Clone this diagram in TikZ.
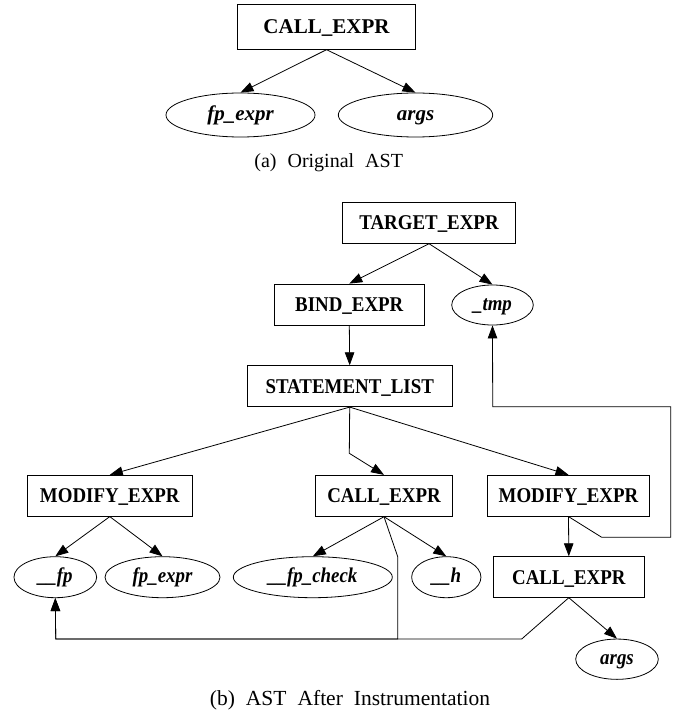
\documentclass[tikz,border=0pt]{standalone}
\usepackage{fontspec}
\usepackage{graphicx}
\setmainfont{Liberation Serif}
\usetikzlibrary{arrows.meta,shapes.geometric}
\begin{document}
\begin{tikzpicture}[x=1pt,y=-1pt,
  box/.style={draw, rectangle, inner sep=0pt, line width=0.8pt, text height=14.2pt, text depth=0pt, font=\fontsize{21}{24}\selectfont\bfseries},
  ell/.style={draw, ellipse, inner sep=0pt, line width=0.8pt, text height=11.5pt, text depth=0pt, font=\fontsize{21}{24}\selectfont\bfseries\itshape},
  edge/.style={-{Triangle[length=13pt,width=9.5pt]}, line width=0.8pt},
  captxt/.style={inner sep=0pt, font=\fontsize{20}{24}\selectfont}]
\useasboundingbox (0,0) rectangle (681,719);
% (a)
\node[box, minimum width=178.4pt, minimum height=45pt] (ca) at (326.5,26.8) {CALL\_EXPR};
\node[ell, minimum width=149pt, minimum height=44pt] (fa) at (240.5,115) {fp\_expr};
\node[ell, minimum width=154.4pt, minimum height=44pt] (aa) at (415.5,115) {args};
\node[captxt] (capa) at (328.7,163) {(a)\hspace{11pt}Original\hspace{11pt}AST};
\draw[edge] (ca.south) -- (fa.north);
\draw[edge] (ca.south) -- (aa.north);
% (b)
\newcommand{\sq}[1]{\scalebox{0.9}[1]{#1}}
\node[box, minimum width=172.6pt, minimum height=41pt] (te) at (429,222.8) {\sq{TARGET\_EXPR}};
\node[box, minimum width=150.7pt, minimum height=41pt] (be) at (349.3,304.5) {\sq{BIND\_EXPR}};
\node[ell, minimum width=81.6pt, minimum height=40pt] (tmp) at (492.5,305) {\sq{\_tmp}};
\node[box, minimum width=205.5pt, minimum height=41pt] (sl) at (349.7,386.2) {\sq{STATEMENT\_LIST}};
\node[box, minimum width=165pt, minimum height=41pt] (me1) at (109.8,495.7) {\sq{MODIFY\_EXPR}};
\node[box, minimum width=136.6pt, minimum height=41pt] (ce1) at (384,495.8) {\sq{CALL\_EXPR}};
\node[box, minimum width=161.6pt, minimum height=41pt] (me2) at (568.5,495.7) {\sq{MODIFY\_EXPR}};
\node[ell, minimum width=82.7pt, minimum height=41pt] (fp) at (55.3,577.2) {\sq{\_\_fp}};
\node[ell, minimum width=115pt, minimum height=41pt] (fe) at (162.5,577.2) {\sq{fp\_expr}};
\node[ell, minimum width=159pt, minimum height=41pt] (fc) at (312.8,577.2) {\sq{\_\_fp\_check}};
\node[ell, minimum width=69.3pt, minimum height=41pt] (hh) at (446.3,577.2) {\sq{\_\_h}};
\node[box, minimum width=151pt, minimum height=40.6pt] (ce2) at (568.8,577) {\sq{CALL\_EXPR}};
\node[ell, minimum width=82.6pt, minimum height=40.3pt] (ar) at (617,659.2) {\sq{args}};
\node[captxt, font=\fontsize{21.5}{24}\selectfont] (capb) at (350,700) {(b)\hspace{11pt}AST\hspace{11pt}After\hspace{11pt}Instrumentation};
% helper points
\coordinate (slb) at (349.3,453.3);
\coordinate (ce1b) at (397.7,556.7);
\coordinate (ce1c) at (397.7,639);
\coordinate (ce2b) at (521.7,639);
\coordinate (fpb) at (55.7,639);
\coordinate (me2a) at (601.7,537.3);
\coordinate (me2b) at (670.7,537.3);
\coordinate (me2c) at (670.7,406.7);
\coordinate (me2d) at (492.7,406.7);
% edges
\draw[edge] (te.south) -- (be.north);
\draw[edge] (te.south) -- (tmp.north);
\draw[edge] (be.south) -- (sl.north);
\draw[edge] (sl.south) -- (me1.north);
\draw[edge] (sl.south) -- (slb) -- (ce1.north);
\draw[edge] (sl.south) -- (me2.north);
\draw[edge] (me1.south) -- (fp.north);
\draw[edge] (me1.south) -- (fe.north);
\draw[edge] (ce1.south) -- (fc.north);
\draw[edge] (ce1.south) -- (hh.north);
\draw[edge] (ce1.south) -- (ce1b) -- (ce1c) -- (fpb) -- (fp.south);
\draw[edge] (me2.south) -- (ce2.north);
\draw[edge] (me2.south) -- (me2a) -- (me2b) -- (me2c) -- (me2d) -- (tmp.south);
\draw[edge] (ce2.south) -- (ce2b) -- (fpb) -- (fp.south);
\draw[edge] (ce2.south) -- (ar.north);
\end{tikzpicture}
\end{document}
